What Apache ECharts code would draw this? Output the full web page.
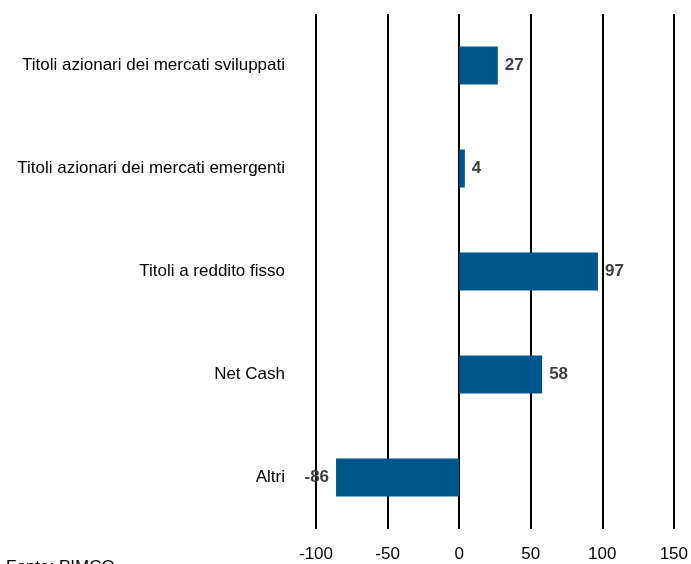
<!DOCTYPE html>
<html>
<head>
<meta charset="utf-8">
<script src="https://cdn.jsdelivr.net/npm/echarts@6/dist/echarts.min.js"></script>
<style>
  html, body { margin: 0; padding: 0; background: #fff; }
  #main { width: 691px; height: 564px; }
</style>
</head>
<body>
<div id="main"></div>
<script>
const categories = [
  'Titoli azionari dei mercati sviluppati',
  'Titoli azionari dei mercati emergenti',
  'Titoli a reddito fisso',
  'Net Cash',
  'Altri'
]
const values = [27, 4, 97, 58, -86]
const ticks = [-100, -50, 0, 50, 100, 150]

const font = '"Liberation Sans", Arial, sans-serif'
const myChart = echarts.init(document.getElementById('main'))
const option = {
  animation: false,
  grid: {
    left: 316,
    right: 15,
    top: 14,
    bottom: 35,
    containLabel: false
  },
  xAxis: {
    type: 'value',
    min: ticks[0],
    max: ticks[ticks.length - 1],
    interval: 50,
    axisLine: { show: false },
    axisTick: { show: false },
    axisLabel: {
      margin: 17,
      color: '#000',
      fontSize: 17,
      fontFamily: font
    },
    splitLine: { show: true, lineStyle: { color: '#000', width: 2 } }
  },
  yAxis: {
    type: 'category',
    inverse: true,
    data: categories,
    axisLine: { show: false },
    axisTick: { show: false },
    axisLabel: {
      margin: 31,
      color: '#000',
      fontSize: 17,
      fontFamily: font
    }
  },
  series: [
    {
      type: 'bar',
      data: values.map(v => ({
        value: v,
        label: { position: v < 0 ? 'left' : 'right' }
      })),
      barWidth: 38,
      itemStyle: { color: '#00558a' },
      label: {
        show: true,
        distance: 7,
        color: '#404040',
        fontWeight: 'bold',
        fontSize: 17,
        fontFamily: font
      }
    }
  ],
  graphic: [
    {
      type: 'text',
      left: 6,
      top: 559,
      style: { text: 'Fonte: PIMCO', fill: '#000', fontSize: 17, fontFamily: font }
    }
  ]
}
option && myChart.setOption(option)
</script>
</body>
</html>
